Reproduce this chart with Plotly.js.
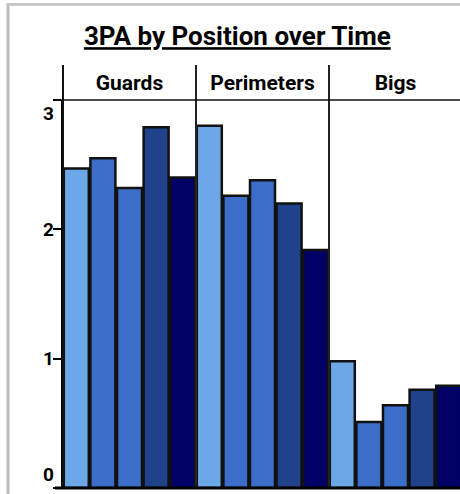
<!DOCTYPE html>
<html>
<head>
<meta charset="utf-8">
<script src="https://cdn.plot.ly/plotly-3.0.1.min.js"></script>
<style>html,body{margin:0;padding:0;background:#fff;}#chart{width:460px;height:494px;}</style>
</head>
<body>
<div id="chart"></div>
<script>
// Data
const positions = ['Guards', 'Perimeters', 'Bigs'];
const periods = ['Period 1', 'Period 2', 'Period 3', 'Period 4', 'Period 5'];
const period1 = [2.47, 2.80, 0.98];
const period2 = [2.55, 2.26, 0.51];
const period3 = [2.32, 2.38, 0.64];
const period4 = [2.79, 2.20, 0.76];
const period5 = [2.40, 1.84, 0.79];
const yTicks = [0, 1, 2, 3];

const seriesValues = [period1, period2, period3, period4, period5];
const colors = ['#6CA7E7', '#3C6EC9', '#3C6EC9', '#1F428A', '#000066'];

const traces = seriesValues.map((vals, i) => ({
  type: 'bar',
  name: periods[i],
  x: positions,
  y: vals,
  marker: { color: colors[i], line: { color: '#111', width: 2.5 } },
  hoverinfo: 'x+y+name'
}));

const shapes = [];
// frame (grey)
shapes.push({ type: 'line', xref: 'paper', yref: 'paper', x0: -0.1385, x1: -0.1385, y0: -0.05, y1: 1.246, line: { color: '#bdbdbd', width: 3 } });
shapes.push({ type: 'line', xref: 'paper', yref: 'paper', x0: -0.142, x1: 1.02, y0: 1.246, y1: 1.246, line: { color: '#c8c8c8', width: 3 } });
// header divider at left (continuation of y axis)
shapes.push({ type: 'line', xref: 'paper', yref: 'paper', x0: 0, x1: 0, y0: 0, y1: 1.09, line: { color: '#111', width: 2 } });
// category dividers
for (let i = 1; i < positions.length; i++) {
  shapes.push({ type: 'line', xref: 'x', yref: 'paper', x0: i - 0.5, x1: i - 0.5, y0: 0, y1: 1.09, line: { color: '#222', width: 2 } });
}
// top line
shapes.push({ type: 'line', xref: 'paper', yref: 'paper', x0: -0.02, x1: 1.02, y0: 1, y1: 1, line: { color: '#111', width: 1.5 } });
// bottom line
shapes.push({ type: 'line', xref: 'paper', yref: 'paper', x0: -0.02, x1: 1.02, y0: 0, y1: 0, line: { color: '#000', width: 3 } });

const annotations = yTicks.map((t, i) => ({
  xref: 'paper', yref: 'y', x: -0.018, y: t,
  xanchor: 'right',
  yanchor: i === 0 ? 'bottom' : (i === yTicks.length - 1 ? 'top' : 'middle'),
  text: '<b>' + t + '</b>', showarrow: false,
  font: { family: 'Roboto, Arial, sans-serif', size: 19, color: '#000' }
}));

const layout = {
  width: 460, height: 494,
  margin: { l: 63, r: 0, t: 100, b: 6, pad: 0 },
  paper_bgcolor: '#fff', plot_bgcolor: '#fff',
  showlegend: false,
  barmode: 'group', bargap: 0, bargroupgap: 0.06,
  title: {
    text: '<b><u>3PA by Position over Time</u></b>',
    font: { family: 'Roboto, Arial, sans-serif', size: 26, color: '#000' },
    xref: 'container', yref: 'container', x: 0.516, y: 0.927, xanchor: 'center', yanchor: 'middle'
  },
  xaxis: {
    type: 'category', side: 'top', range: [-0.5, 2.485],
    showgrid: false, zeroline: false, showline: false, ticks: '',
    tickfont: { family: 'Roboto, Arial, sans-serif', size: 21, color: '#000', weight: 'bold' },
    ticklabelstandoff: 5
  },
  yaxis: {
    range: [0, 3], tickvals: yTicks, showticklabels: false,
    ticks: 'outside', ticklen: 8, tickwidth: 2, tickcolor: '#000',
    showgrid: false, zeroline: false, showline: true, linecolor: '#000', linewidth: 2
  },
  shapes: shapes,
  annotations: annotations
};

Plotly.newPlot('chart', traces, layout, { displayModeBar: false, staticPlot: true });
</script>
</body>
</html>
